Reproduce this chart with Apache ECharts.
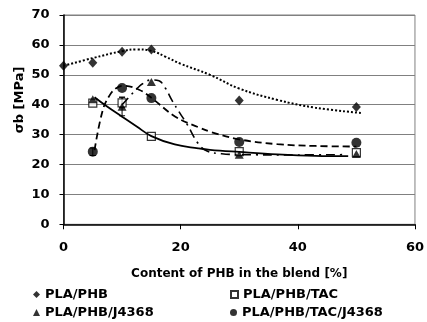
<!DOCTYPE html>
<html><head><meta charset="utf-8">
<script src="https://cdn.jsdelivr.net/npm/echarts@6/dist/echarts.min.js"></script>
<style>html,body{margin:0;padding:0;background:#fff}#c{width:427px;height:322px}</style>
</head><body><div id="c"></div>
<script>
// ---- data ----
const xPHB = [0, 5, 10, 15, 30, 50];
const yPHB = [53, 54, 57.7, 58.5, 41.4, 39.2];
const xTAC = [5, 10, 15, 30, 50];
const yTAC = [40.5, 40.6, 29.4, 24.3, 24];
const xJ = [5, 10, 15, 30, 50];
const yJ = [41.8, 39.3, 47.6, 23.3, 23.5];
const xTACJ = [5, 10, 15, 30, 50];
const yTACJ = [24.3, 45.6, 42.2, 27.5, 27.3];

// trend curves
const tPHBx = [0, 5, 10, 12.5, 15, 17.5, 20, 25, 30, 36.5, 43, 51];
const tPHBy = [53, 55.6, 57.9, 58.5, 58, 56, 53.7, 50, 45.4, 41.6, 39, 37.2];
const tTACx = [5.3, 7.5, 10, 12.5, 15, 19, 23, 25, 30, 36.5, 43, 48.6];
const tTACy = [42.5, 39.3, 36, 32.7, 29.5, 26.7, 25.4, 24.9, 24.2, 23.4, 22.9, 22.8];
const tTACJx = [5.3, 6.7, 7.9, 9, 10.2, 12.9, 15, 19.1, 23, 25.3, 30, 36.5, 43, 50];
const tTACJy = [24.8, 38.2, 43.2, 45.5, 46.3, 45, 42.3, 36, 32.5, 30.8, 28.4, 26.8, 26.2, 26];
const tJx = [10, 11.5, 12.6, 13.5, 15, 16.3, 17.4, 18.5, 19.9, 21, 23, 24.5, 27, 30, 40, 48];
const tJy = [40, 43.2, 45.5, 47, 48.3, 48, 45.5, 41.5, 37.1, 33.8, 27, 24.5, 23.6, 23.3, 23.2, 23.3];

// error bars [x, low, high]
const errX = [10, 10, 5];
const errLo = [36.3, 39, 23];
const errHi = [42.5, 42.5, 25.5];

const xTicks = [0, 20, 40, 60];
const yTicks = [0, 10, 20, 30, 40, 50, 60, 70];
const names = ['PLA/PHB', 'PLA/PHB/TAC', 'PLA/PHB/J4368', 'PLA/PHB/TAC/J4368'];
const yTitle = 'σb [MPa]';

const zip = (a, b) => a.map((v, i) => [v, b[i]]);
const FONT = 'DejaVu Sans';

const chart = echarts.init(document.getElementById('c'), null, {renderer: 'canvas'});

const legendBase = (name, left, top) => ({
  data: [name], left: left, top: top, itemWidth: 7, itemHeight: 7,
  textStyle: {fontFamily: FONT, fontWeight: 'bold', fontSize: 13, color: '#000'},
  selectedMode: false, padding: 0
});

chart.setOption({
  animation: false,
  backgroundColor: '#fff',
  grid: {left: 63.5, right: 8, top: 15, bottom: 97.7, show: true, borderColor: '#808080', borderWidth: 1},
  xAxis: {
    type: 'value', min: xTicks[0], max: xTicks[xTicks.length - 1], interval: 20,
    axisLine: {lineStyle: {color: '#000', width: 1.5}},
    axisTick: {show: true, length: 5, lineStyle: {color: '#000'}},
    splitLine: {show: false},
    axisLabel: {fontFamily: FONT, fontWeight: 'bold', fontSize: 13, color: '#000', margin: 17},
    name: 'Content of PHB in the blend [%]', nameLocation: 'middle', nameGap: 44,
    nameTextStyle: {fontFamily: FONT, fontWeight: 'bold', fontSize: 12, color: '#000'}
  },
  yAxis: {
    type: 'value', min: yTicks[0], max: yTicks[yTicks.length - 1], interval: 10,
    axisLine: {show: true, lineStyle: {color: '#000', width: 1.5}},
    axisTick: {show: true, length: 4, lineStyle: {color: '#000'}},
    splitLine: {lineStyle: {color: '#808080', width: 1}},
    axisLabel: {fontFamily: FONT, fontWeight: 'bold', fontSize: 13, color: '#000', margin: 14}
  },
  graphic: [{
    type: 'text', x: 20, y: 100, rotation: Math.PI / 2,
    style: {text: yTitle, fontFamily: FONT, fontWeight: 'bold', fontSize: 13, fill: '#000',
            align: 'center', verticalAlign: 'middle'}
  }],
  legend: [
    legendBase(names[0], 33, 288),
    legendBase(names[1], 230, 288),
    legendBase(names[2], 33, 306),
    legendBase(names[3], 230, 306)
  ],
  series: [
    {type: 'line', data: zip(tPHBx, tPHBy), smooth: 0.4, showSymbol: false, silent: true,
     lineStyle: {color: '#000', width: 2, type: 'dotted', cap: 'butt'}},
    {type: 'line', data: zip(tTACx, tTACy), smooth: 0.4, showSymbol: false, silent: true,
     lineStyle: {color: '#000', width: 1.8, type: 'solid'}},
    {type: 'line', data: zip(tTACJx, tTACJy), smooth: 0.4, showSymbol: false, silent: true,
     lineStyle: {color: '#000', width: 1.8, type: [7, 4], cap: 'butt'}},
    {type: 'line', data: zip(tJx, tJy), smooth: 0.4, showSymbol: false, silent: true,
     lineStyle: {color: '#000', width: 1.6, type: [9, 5, 2, 5], cap: 'butt'}},
    {type: 'custom', silent: true,
     data: errX.map((x, i) => [x, errLo[i], errHi[i]]),
     renderItem: function (params, api) {
       const lo = api.coord([api.value(0), api.value(1)]);
       const hi = api.coord([api.value(0), api.value(2)]);
       return {type: 'group', children: [
         {type: 'line', shape: {x1: lo[0], y1: lo[1], x2: hi[0], y2: hi[1]}, style: {stroke: '#000', lineWidth: 1}},
         {type: 'line', shape: {x1: lo[0] - 3, y1: lo[1], x2: lo[0] + 3, y2: lo[1]}, style: {stroke: '#000', lineWidth: 1}},
         {type: 'line', shape: {x1: hi[0] - 3, y1: hi[1], x2: hi[0] + 3, y2: hi[1]}, style: {stroke: '#000', lineWidth: 1}}
       ]};
     }},
    {name: names[1], type: 'scatter', data: zip(xTAC, yTAC), symbol: 'rect', symbolSize: 8,
     itemStyle: {color: '#fff', borderColor: '#000', borderWidth: 1.2}},
    {name: names[0], type: 'scatter', data: zip(xPHB, yPHB), symbol: 'diamond', symbolSize: [9, 10],
     itemStyle: {color: '#000'}},
    {name: names[2], type: 'scatter', data: zip(xJ, yJ), symbol: 'triangle', symbolSize: [9, 8],
     itemStyle: {color: '#000'}},
    {name: names[3], type: 'scatter', data: zip(xTACJ, yTACJ), symbol: 'circle', symbolSize: 10,
     itemStyle: {color: '#000'}}
  ]
});
</script>
</body></html>
